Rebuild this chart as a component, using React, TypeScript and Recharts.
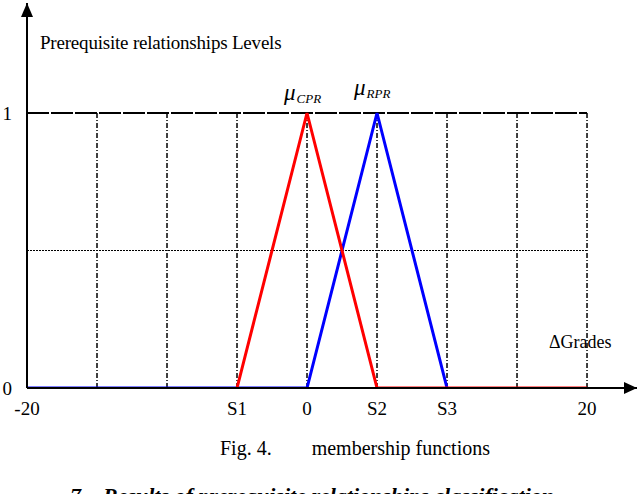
import { LineChart, Line, XAxis, YAxis, ReferenceLine, ReferenceDot } from 'recharts';

// membership function vertices (x in grade difference, y in level)
const cprX = [-5, 0, 5, 20];
const cprY = [0, 1, 0, 0];
const rprX = [-20, 0, 5, 10];
const rprY = [0, 0, 1, 0];

const xTicks = [-20, -5, 0, 5, 10, 20];
const xTickNames = ['-20', 'S1', '0', 'S2', 'S3', '20'];
const yTicks = [0, 1];
const gridX = [-15, -10, -5, 0, 5, 10, 15, 20];
const gridY = [0.5, 1];

const cpr = cprX.map((x, i) => ({ x, y: cprY[i] }));
const rpr = rprX.map((x, i) => ({ x, y: rprY[i] }));

const serif = '"Liberation Serif"';

const MuLabel = (sub: string, dy: number) => (props: any) => {
  const { cx, cy } = props;
  return (
    <text x={cx - 23} y={cy - 13 + dy} fontFamily={serif} fontStyle="italic" fill="#000">
      <tspan fontSize={23}>μ</tspan>
      <tspan fontSize={13} dy={3} dx={1}>{sub}</tspan>
    </text>
  );
};

const XArrow = (props: any) => {
  const { cx, cy } = props;
  return <polygon points={`${cx},${cy} ${cx - 13},${cy - 6} ${cx - 13},${cy + 6}`} fill="#000" />;
};

const YArrow = (props: any) => {
  const { cx, cy } = props;
  return <polygon points={`${cx},${cy} ${cx - 6},${cy + 14} ${cx + 6},${cy + 14}`} fill="#000" />;
};

export default function App() {
  return (
    <div style={{ position: 'absolute', left: 0, top: 0, width: 640, height: 494, background: '#fff', overflow: 'hidden', fontFamily: serif }}>
      <LineChart width={640} height={494} margin={{ top: 3, right: 3, left: 0, bottom: 76 }}>
        <XAxis
          type="number"
          dataKey="x"
          domain={[-20, 23.57]}
          ticks={xTicks}
          tickFormatter={(v) => xTickNames[xTicks.indexOf(v)]}
          allowDataOverflow
          height={30}
          tickSize={0}
          tickMargin={14}
          axisLine={{ stroke: '#000', strokeWidth: 2 }}
          tick={{ fill: '#000', fontSize: 19, fontFamily: serif }}
        />
        <YAxis
          type="number"
          domain={[0, 1.4]}
          ticks={yTicks}
          allowDataOverflow
          width={27}
          tickSize={0}
          tickMargin={15}
          axisLine={{ stroke: '#000', strokeWidth: 2 }}
          tick={{ fill: '#000', fontSize: 19, fontFamily: serif }}
        />
        {gridY.map((v) => (
          <ReferenceLine
            key={'h' + v}
            segment={[{ x: -20, y: v }, { x: 20, y: v }]}
            stroke="#000"
            strokeWidth={v === 1 ? 2 : 1.2}
            strokeDasharray={v === 1 ? '22 2' : '2 1'}
          />
        ))}
        {gridX.map((v) => (
          <ReferenceLine
            key={'v' + v}
            segment={[{ x: v, y: 0 }, { x: v, y: 1 }]}
            stroke="#000"
            strokeWidth={1.5}
            strokeDasharray="5 2 1 2"
          />
        ))}
        <Line data={rpr} dataKey="y" type="linear" stroke="#0000ff" strokeWidth={3} dot={false} isAnimationActive={false} />
        <Line data={cpr} dataKey="y" type="linear" stroke="#ff0000" strokeWidth={3} dot={false} isAnimationActive={false} />
        <ReferenceDot x={0} y={1} r={0} shape={MuLabel('CPR', 0)} />
        <ReferenceDot x={5} y={1} r={0} shape={MuLabel('RPR', -5)} />
        <ReferenceDot x={23.57} y={0} r={0} shape={XArrow} ifOverflow="visible" />
        <ReferenceDot x={-20} y={1.4} r={0} shape={YArrow} ifOverflow="visible" />
      </LineChart>
      <div style={{ position: 'absolute', left: 40, top: 32, fontSize: 19, color: '#000', whiteSpace: 'nowrap', letterSpacing: -0.2 }}>
        Prerequisite relationships Levels
      </div>
      <div style={{ position: 'absolute', left: 549, top: 332, fontSize: 18, color: '#000', whiteSpace: 'nowrap' }}>
        ΔGrades
      </div>
      <div style={{ position: 'absolute', left: 220, top: 437, fontSize: 20, color: '#000', whiteSpace: 'pre' }}>
        {'Fig. 4.        membership functions'}
      </div>
      <div style={{ position: 'absolute', left: 70, top: 483, fontSize: 22, fontWeight: 700, fontStyle: 'italic', color: '#000', whiteSpace: 'pre' }}>
        {'7.   Results of prerequisite relationships classification'}
      </div>
    </div>
  );
}
